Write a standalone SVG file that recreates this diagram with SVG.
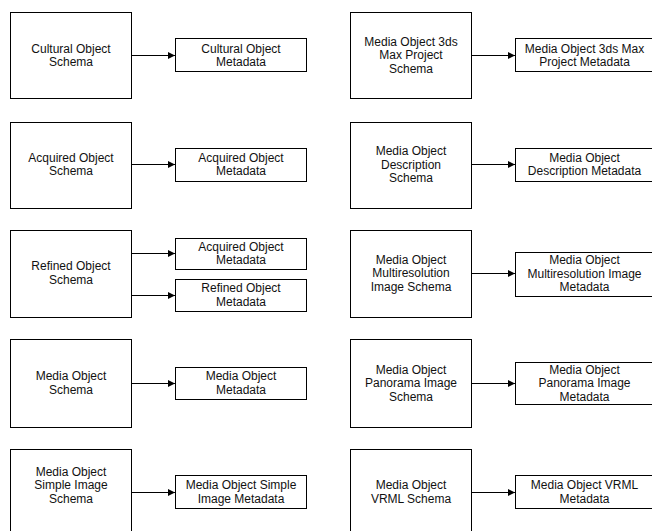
<svg xmlns="http://www.w3.org/2000/svg" width="652" height="531" viewBox="0 0 652 531">
<defs>
<marker id="ah" viewBox="0 0 10 10" refX="10" refY="5" markerWidth="8" markerHeight="7" markerUnits="userSpaceOnUse" orient="auto">
<path d="M0,0 L10,5 L0,10 z" fill="#000"/>
</marker>
<style>
rect{fill:#fff;stroke:#000;stroke-width:1}
text{font-family:"Liberation Sans",Arial,sans-serif;font-size:12px;fill:#111;text-anchor:middle}
.c line{stroke:#000;stroke-width:1;marker-end:url(#ah)}
</style>
</defs>
<rect x="0" y="0" width="652" height="531" style="stroke:none;fill:#fff"/>
<g class="c" id="connectors">
<line x1="131.5" y1="55.5" x2="175" y2="55.5"/>
<line x1="131.5" y1="164.5" x2="175" y2="164.5"/>
<line x1="131.5" y1="253.5" x2="175" y2="253.5"/>
<line x1="131.5" y1="295.5" x2="175" y2="295.5"/>
<line x1="131.5" y1="383.5" x2="175" y2="383.5"/>
<line x1="131.5" y1="492.5" x2="175" y2="492.5"/>
<line x1="471.5" y1="55.5" x2="515" y2="55.5"/>
<line x1="471.5" y1="164.5" x2="515" y2="164.5"/>
<line x1="471.5" y1="273.5" x2="515" y2="273.5"/>
<line x1="471.5" y1="383.5" x2="515" y2="383.5"/>
<line x1="471.5" y1="492.5" x2="515" y2="492.5"/>
</g>
<g id="s1"><rect x="10.5" y="12.5" width="121" height="86"/><text x="71" y="52.5">Cultural Object</text><text x="71" y="66">Schema</text></g>
<g id="m1"><rect x="175.5" y="38.5" width="131" height="33"/><text x="241" y="52.5">Cultural Object</text><text x="241" y="66">Metadata</text></g>
<g id="s2"><rect x="10.5" y="122.5" width="121" height="86"/><text x="71" y="161.5">Acquired Object</text><text x="71" y="175">Schema</text></g>
<g id="m2"><rect x="175.5" y="148.5" width="131" height="33"/><text x="241" y="161.5">Acquired Object</text><text x="241" y="175">Metadata</text></g>
<g id="s3"><rect x="10.5" y="230.5" width="121" height="87"/><text x="71" y="270">Refined Object</text><text x="71" y="283.5">Schema</text></g>
<g id="m3a"><rect x="175.5" y="238.5" width="131" height="31"/><text x="241" y="250.5">Acquired Object</text><text x="241" y="264">Metadata</text></g>
<g id="m3b"><rect x="175.5" y="279.5" width="131" height="32"/><text x="241" y="292">Refined Object</text><text x="241" y="305.5">Metadata</text></g>
<g id="s4"><rect x="10.5" y="339.5" width="121" height="88"/><text x="71" y="380">Media Object</text><text x="71" y="393.5">Schema</text></g>
<g id="m4"><rect x="175.5" y="367.5" width="131" height="32"/><text x="241" y="380">Media Object</text><text x="241" y="393.5">Metadata</text></g>
<g id="s5"><rect x="10.5" y="449.5" width="121" height="95"/><text x="71" y="475.5">Media Object</text><text x="71" y="489">Simple Image</text><text x="71" y="502.5">Schema</text></g>
<g id="m5"><rect x="175.5" y="475.5" width="131" height="33"/><text x="241" y="489">Media Object Simple</text><text x="241" y="502.5">Image Metadata</text></g>
<g id="s6"><rect x="350.5" y="12.5" width="121" height="86"/><text x="411" y="45.5">Media Object 3ds</text><text x="411" y="59">Max Project</text><text x="411" y="72.5">Schema</text></g>
<g id="m6"><rect x="515.5" y="38.5" width="139" height="33"/><text x="584.5" y="52.5">Media Object 3ds Max</text><text x="584.5" y="66">Project Metadata</text></g>
<g id="s7"><rect x="350.5" y="122.5" width="121" height="86"/><text x="411" y="155">Media Object</text><text x="411" y="168.5">Description</text><text x="411" y="182">Schema</text></g>
<g id="m7"><rect x="515.5" y="148.5" width="139" height="33"/><text x="584.5" y="161.5">Media Object</text><text x="584.5" y="175">Description Metadata</text></g>
<g id="s8"><rect x="350.5" y="230.5" width="121" height="87"/><text x="411" y="263.5">Media Object</text><text x="411" y="277">Multiresolution</text><text x="411" y="290.5">Image Schema</text></g>
<g id="m8"><rect x="515.5" y="252.5" width="139" height="44"/><text x="584.5" y="264">Media Object</text><text x="584.5" y="277.5">Multiresolution Image</text><text x="584.5" y="291">Metadata</text></g>
<g id="s9"><rect x="350.5" y="339.5" width="121" height="88"/><text x="411" y="373.5">Media Object</text><text x="411" y="387">Panorama Image</text><text x="411" y="400.5">Schema</text></g>
<g id="m9"><rect x="515.5" y="362.5" width="139" height="42"/><text x="584.5" y="373.5">Media Object</text><text x="584.5" y="387">Panorama Image</text><text x="584.5" y="400.5">Metadata</text></g>
<g id="s10"><rect x="350.5" y="449.5" width="121" height="95"/><text x="411" y="489">Media Object</text><text x="411" y="502.5">VRML Schema</text></g>
<g id="m10"><rect x="515.5" y="475.5" width="139" height="33"/><text x="584.5" y="489">Media Object VRML</text><text x="584.5" y="502.5">Metadata</text></g>
</svg>
